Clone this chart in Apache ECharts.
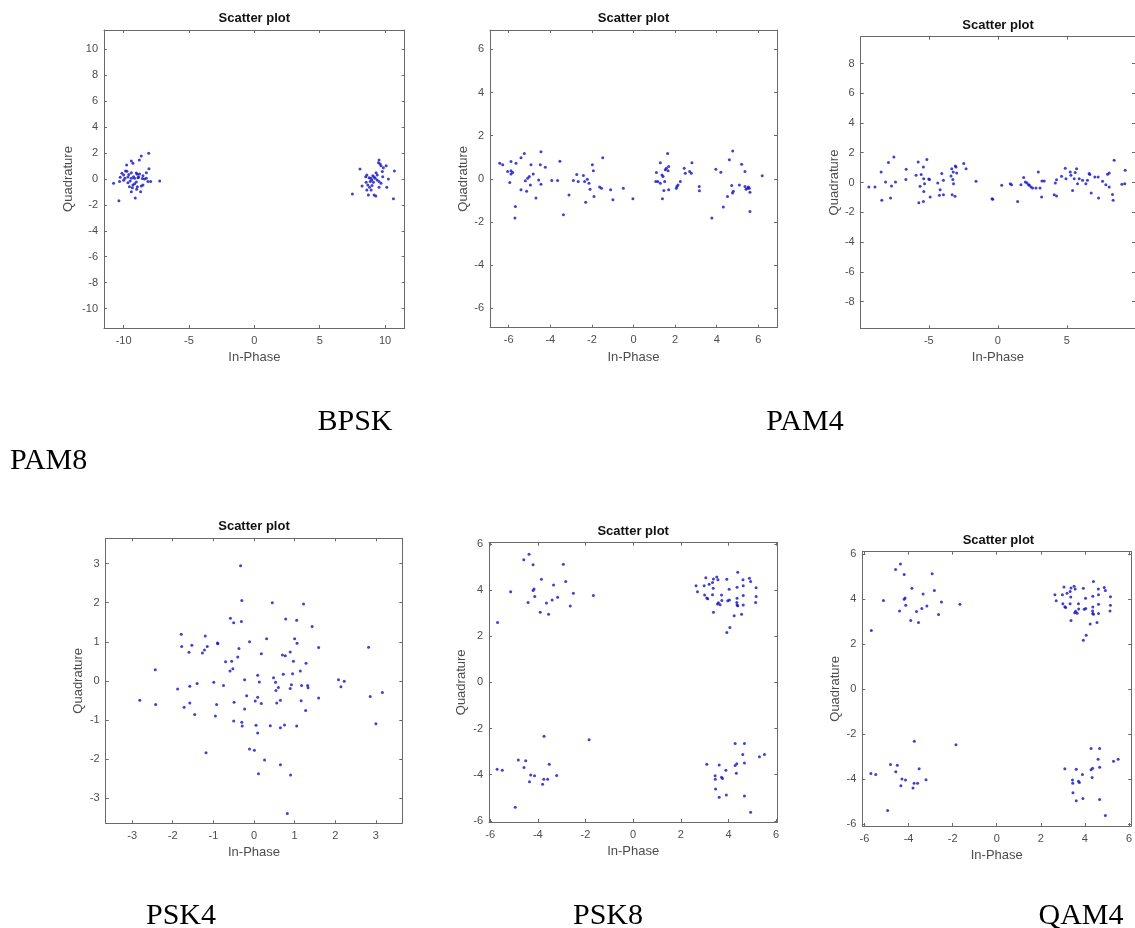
<!DOCTYPE html>
<html><head><meta charset="utf-8">
<script src="https://cdn.jsdelivr.net/npm/echarts@6/dist/echarts.min.js"></script>
<style>html,body{margin:0;padding:0;background:#fff}#c{width:1135px;height:928px}</style>
</head><body><div id="c"></div>
<script>
// ---------- data ----------
const bpskPoints = [
[-8.08,1.98],[-8.65,1.77],[-9.41,1.39],[-9.29,1.21],[-9.77,1.08],[-8.8,1.47],[-8.06,0.8],[-9.85,0.62],[-9.75,0.6],[-10.13,0.44],
[-10.0,0.3],[-9.41,0.49],[-9.03,0.46],[-8.95,0.36],[-8.78,0.39],[-8.52,0.26],[-8.26,0.49],[-10.26,0.13],[-9.67,0.15],[-9.41,0.05],
[-9.24,0.18],[-9.16,0.05],[-8.9,0.1],[-8.26,0.05],[-10.77,-0.33],[-10.31,-0.2],[-10.0,-0.1],[-9.67,-0.28],[-9.5,-0.15],[-9.29,-0.46],
[-9.16,-0.36],[-9.03,-0.23],[-8.95,-0.59],[-9.33,-0.67],[-8.52,-0.46],[-8.14,-0.2],[-7.93,-0.2],[-7.24,-0.15],[-9.41,-0.98],[-8.7,-0.98],
[-8.65,-0.54],[-9.11,-1.47],[-10.36,-1.67],[-8.4,0.0],[-8.57,0.03],[-9.55,-0.6],[-9.0,-0.8],[-8.85,0.15],[-9.6,0.35],[-9.9,0.05],
[9.54,1.47],[9.49,1.26],[9.62,1.16],[9.69,1.03],[9.87,0.87],[10.08,1.03],[8.08,0.77],[10.71,0.62],[9.79,0.57],[9.31,0.49],
[8.6,0.31],[8.52,0.18],[9.06,0.26],[9.16,0.15],[8.91,0.05],[9.24,0.05],[9.39,-0.08],[9.82,0.18],[10.25,0.0],[9.54,-0.2],
[9.69,-0.33],[8.86,-0.2],[8.55,-0.26],[9.11,-0.26],[8.68,-0.46],[8.24,-0.54],[8.81,-0.64],[8.93,-0.85],[8.6,-0.85],[10.13,-0.64],
[9.54,-0.64],[9.16,-1.23],[8.72,-1.23],[9.29,-1.31],[7.5,-1.16],[10.64,-1.52],[8.99,-0.08],[8.78,0.1],[9.4,0.3],[9.0,-0.5]
];
const pam4Points = [
[-6.43,0.72],[-6.29,0.65],[-5.89,0.8],[-5.65,0.72],[-6.05,0.34],[-5.89,0.38],[-5.81,0.29],[-5.89,0.23],[-5.95,-0.17],[-5.68,-1.28],
[-5.7,-1.82],[-5.41,0.98],[-5.25,1.18],[-5.41,-0.51],[-5.2,-0.09],[-5.09,0.03],[-5.14,-0.58],[-5.01,0.11],[-4.93,0.65],[-4.96,-0.28],
[-4.82,0.22],[-4.69,-0.89],[-4.56,-0.05],[-4.48,0.65],[-4.45,1.26],[-4.45,-0.25],[-4.24,0.54],[-3.93,-0.08],[-3.65,-0.08],[-3.54,0.82],
[-3.37,-1.66],[-3.1,-0.75],[-2.89,-0.08],[-2.73,0.2],[-2.66,-0.12],[-2.41,0.15],[-2.35,-0.12],[-2.3,-1.09],[-2.22,-0.02],[-2.14,-0.2],
[-2.09,-0.48],[-1.98,0.65],[-1.93,0.38],[-1.9,-0.82],[-1.63,-0.38],[-1.54,-0.43],[-1.48,0.98],[-1.1,-0.51],[-0.99,-0.97],[-0.49,-0.43],
[-0.03,-0.92],
[1.07,-0.12],[1.1,0.29],[1.17,-0.12],[1.29,-0.2],[1.29,0.75],[1.37,0.18],[1.42,0.11],[1.39,-0.92],[1.46,-0.54],[1.5,-0.12],
[1.53,0.42],[1.58,0.49],[1.64,1.18],[1.66,0.38],[1.69,-0.51],[1.69,0.57],[2.06,-0.43],[2.09,-0.35],[2.14,-0.28],[2.25,-0.12],
[2.44,0.49],[2.49,0.26],[2.7,0.34],[2.78,0.26],[2.81,0.75],[3.16,-0.35],[3.17,-0.55],[3.77,-1.82],[3.96,0.45],[4.2,0.31],
[4.32,-1.31],[4.52,-0.82],[4.61,0.88],[4.72,-0.31],[4.77,1.29],[4.76,-0.66],[4.8,-0.58],[5.09,-0.28],[5.2,0.68],[5.36,0.34],
[5.36,-0.35],[5.41,-0.48],[5.49,-0.43],[5.52,-0.38],[5.57,-0.43],[5.6,-0.62],[5.6,-1.51],[6.19,0.14]
];
const pam8Points = [
[-9.34,-0.3],[-8.9,-0.3],[-8.45,0.71],[-8.4,-1.2],[-8.13,0.03],[-7.92,1.34],[-7.77,-1.04],[-7.7,-0.24],[-7.53,1.72],[-7.41,0.03],
[-6.66,0.21],[-6.64,0.89],[-5.92,0.48],[-5.77,1.38],[-5.72,-1.36],[-5.63,-0.26],[-5.55,0.53],[-5.39,1.04],[-5.39,-1.27],[-5.37,0.26],
[-5.36,-0.6],[-5.31,-0.08],[-5.14,1.54],[-5.0,0.24],[-4.95,0.21],[-4.9,-0.98],[-4.35,-0.03],[-4.18,-0.48],[-4.06,0.6],[-4.23,-0.86],
[-3.94,-0.82],[-3.94,0.15],[-3.39,0.44],[-3.34,0.93],[-3.31,-0.82],[-3.26,0.21],[-3.23,0.71],[-3.21,-0.08],[-3.1,-0.93],[-3.08,1.11],
[-3.03,1.04],[-2.98,0.64],[-2.47,1.27],[-2.3,0.93],[-1.58,0.08],[-0.42,-1.09],[-0.37,-1.13],[0.28,-0.19],[0.9,-0.08],[0.99,-0.15],
[1.43,-1.27],[1.67,-0.15],[1.87,0.33],[1.99,0.03],[2.11,-0.03],[2.23,-0.15],[2.28,-0.19],[2.4,-0.3],[2.52,-0.37],[2.76,-0.37],
[2.93,0.71],[3.05,-0.37],[3.17,-0.98],[3.19,0.1],[3.36,0.1],[4.08,-0.82],[4.16,-0.03],[4.25,-0.91],[4.25,0.19],[4.61,0.42],
[4.88,0.95],[4.93,0.26],[5.24,0.71],[5.29,0.48],[5.41,-0.53],[5.53,0.26],[5.6,0.68],[5.7,0.93],[5.77,-0.08],[5.89,0.26],
[6.13,0.15],[6.37,-0.08],[6.49,0.15],[6.61,0.6],[6.66,0.53],[6.76,-0.71],[7.02,0.37],[7.26,0.37],[7.29,-1.04],[7.58,0.08],
[7.82,-0.15],[7.94,0.55],[8.06,0.64],[8.06,-0.3],[8.3,-0.8],[8.35,-1.2],[8.42,1.49],[8.98,-0.12],[9.19,-0.08],[9.22,0.82]
];
const psk4Points = [
[-0.33,2.95],[-0.3,2.06],[0.45,2.0],[1.22,1.97],[-0.58,1.6],[-0.5,1.49],[-0.31,1.52],[0.78,1.58],[1.05,1.55],[1.43,1.39],
[-1.79,1.19],[-1.2,1.15],[-1.78,0.88],[-1.53,0.91],[-1.6,0.73],[-1.22,0.79],[-1.15,0.88],[-1.27,0.71],[-0.9,0.97],[-0.89,0.95],
[-0.11,1.0],[0.31,1.08],[1.0,1.08],[1.06,0.96],[1.59,0.85],[2.82,0.86],[-0.37,0.83],[-0.4,0.61],[-0.7,0.49],[-0.55,0.5],
[-0.52,0.31],[-0.59,0.25],[0.18,0.69],[0.7,0.66],[0.77,0.64],[0.89,0.74],[0.97,0.5],[1.28,0.45],[1.14,0.25],[0.72,0.17],
[0.95,0.18],[-2.43,0.28],[-0.23,0.03],[0.09,0.14],[0.13,-0.03],[0.48,0.08],[0.53,-0.04],[0.6,-0.17],[0.54,-0.25],[0.92,-0.1],
[0.89,-0.2],[1.17,-0.12],[1.32,-0.12],[1.33,-0.18],[2.08,0.03],[2.22,-0.01],[2.14,-0.15],[-0.99,-0.04],[-0.75,-0.12],[-1.4,-0.07],
[-1.58,-0.14],[-1.88,-0.21],[-2.81,-0.5],[-2.42,-0.61],[-1.58,-0.57],[-1.72,-0.68],[-1.46,-0.86],[-0.92,-0.61],[-0.95,-0.9],[-0.49,-0.55],
[-0.23,-0.72],[-0.18,-0.38],[0.03,-0.52],[0.09,-0.42],[0.18,-0.58],[0.56,-0.57],[0.65,-0.5],[1.16,-0.51],[1.27,-0.76],[1.59,-0.44],
[2.86,-0.4],[3.16,-0.3],[3.0,-1.1],[-0.5,-1.03],[-0.3,-1.06],[-0.29,-1.16],[0.05,-1.14],[0.09,-1.34],[0.4,-1.15],[0.65,-1.2],
[0.75,-1.13],[1.05,-1.16],[-1.18,-1.84],[-0.11,-1.75],[0.01,-1.78],[0.26,-2.03],[0.65,-2.15],[0.11,-2.38],[0.9,-2.41],[0.82,-3.4]
];
const psk8Points = [
[-4.37,5.55],[-4.59,5.31],[-4.2,5.09],[-2.93,5.12],[-3.85,4.47],[-2.83,4.37],[-3.34,4.22],[-5.14,3.93],[-4.16,4.04],[-4.2,3.98],
[-2.51,3.86],[-1.67,3.76],[-4.13,3.72],[-3.17,3.69],[-3.4,3.57],[-3.64,3.44],[-4.41,3.46],[-2.64,3.31],[-3.9,3.04],[-3.55,2.95],
[-5.69,2.59],
[2.64,4.18],[2.7,3.92],[3.05,4.53],[2.98,4.18],[3.19,4.25],[3.33,4.33],[3.36,4.08],[3.37,4.48],[3.51,4.56],[3.56,4.44],
[3.93,4.47],[4.39,4.77],[4.88,4.51],[4.93,4.37],[4.61,4.44],[4.62,4.18],[4.36,4.12],[4.03,4.03],[5.16,4.1],[3.0,3.78],
[3.09,3.65],[3.13,3.62],[3.33,3.79],[3.71,3.78],[4.62,3.76],[5.16,3.72],[4.36,3.64],[4.04,3.57],[3.97,3.54],[3.72,3.55],
[3.58,3.45],[3.65,3.36],[3.54,3.39],[4.35,3.46],[4.36,3.35],[4.39,3.32],[4.62,3.35],[5.14,3.46],[3.37,3.04],[4.24,2.88],
[4.55,2.95],[4.06,2.38],[3.93,2.16],
[-3.74,-2.33],[-1.85,-2.49],[-4.82,-3.36],[-4.51,-3.4],[-5.71,-3.76],[-5.49,-3.81],[-4.58,-3.69],[-3.52,-3.55],[-4.3,-4.01],[-4.14,-4.05],
[-3.21,-4.04],[-4.35,-4.31],[-3.75,-4.2],[-3.59,-4.2],[-3.8,-4.41],[-4.95,-5.41],
[4.28,-2.65],[4.67,-2.65],[4.6,-3.13],[5.3,-3.22],[5.51,-3.13],[3.09,-3.55],[3.61,-3.58],[4.28,-3.6],[4.35,-3.53],[4.67,-3.49],
[3.89,-3.81],[4.33,-3.94],[3.44,-4.05],[3.45,-4.2],[3.71,-4.11],[3.75,-4.17],[3.46,-4.62],[3.91,-4.88],[3.61,-4.98],[4.67,-4.92],
[4.93,-5.63]
];
// QAM4 panel shows the same received symbols as the PSK8 panel
const qam4Points = psk8Points.map(p => p.slice());

const panelNames = ['BPSK', 'PAM4', 'PAM8', 'PSK4', 'PSK8', 'QAM4'];
const bpskTicksX = [-10, -5, 0, 5, 10];
const bpskTicksY = [-10, -8, -6, -4, -2, 0, 2, 4, 6, 8, 10];
const pam4Ticks = [-6, -4, -2, 0, 2, 4, 6];
const pam8TicksX = [-5, 0, 5];
const pam8TicksY = [-8, -6, -4, -2, 0, 2, 4, 6, 8];
const psk4Ticks = [-3, -2, -1, 0, 1, 2, 3];
const psk8Ticks = [-6, -4, -2, 0, 2, 4, 6];
const titleText = 'Scatter plot';
const xName = 'In-Phase';
const yName = 'Quadrature';

// ---------- layout ----------
const panels = [
  {data: bpskPoints, xr: [-11.5, 11.5], yr: [-11.5, 11.5], xt: bpskTicksX, yt: bpskTicksY, l: 104, t: 30, r: 404.7, b: 328, yGap: 29},
  {data: pam4Points, xr: [-6.9, 6.9], yr: [-6.9, 6.9], xt: pam4Ticks, yt: pam4Ticks, l: 490, t: 30, r: 777, b: 327.7, yGap: 20},
  {data: pam8Points, xr: [-9.93, 9.93], yr: [-9.8, 9.8], xt: pam8TicksX, yt: pam8TicksY, l: 860.7, t: 36.7, r: 1135.5, b: 328.3, yGap: 19},
  {data: psk4Points, xr: [-3.65, 3.65], yr: [-3.65, 3.65], xt: psk4Ticks, yt: psk4Ticks, l: 105.7, t: 538.3, r: 402.3, b: 823.3, yGap: 21},
  {data: psk8Points, xr: [-6.05, 6.05], yr: [-6.05, 6.05], xt: psk8Ticks, yt: psk8Ticks, l: 489, t: 542.7, r: 777.3, b: 822, yGap: 21},
  {data: qam4Points, xr: [-6.1, 6.1], yr: [-6.1, 6.1], xt: psk8Ticks, yt: psk8Ticks, l: 862.3, t: 551.7, r: 1134.5, b: 826, yGap: 20}
];
const captions = [
  {x: 355, y: 422, align: 'center'},
  {x: 805, y: 422, align: 'center'},
  {x: 10, y: 461, align: 'left'},
  {x: 181, y: 916, align: 'center'},
  {x: 608, y: 916, align: 'center'},
  {x: 1081, y: 916, align: 'center'}
];

const axisColor = '#6a6a6a';
const labelColor = '#4d4d4d';
const sans = '"Liberation Sans", Arial, Helvetica, sans-serif';
const serif = '"Liberation Serif", "Times New Roman", serif';

const grid = [], xAxis = [], yAxis = [], series = [], graphic = [];
panels.forEach((p, i) => {
  grid.push({left: p.l, top: p.t, width: p.r - p.l, height: p.b - p.t, containLabel: false});
  const tickStyle = {show: true, inside: true, length: 3, lineStyle: {color: axisColor, width: 1}};
  const lineStyle = {show: true, onZero: false, lineStyle: {color: axisColor, width: 1}};
  xAxis.push({
    type: 'value', gridIndex: i, position: 'bottom', min: p.xr[0], max: p.xr[1],
    axisLine: lineStyle, splitLine: {show: false},
    axisTick: Object.assign({}, tickStyle, {customValues: p.xt}),
    axisLabel: {show: true, customValues: p.xt, margin: 7, color: labelColor, fontSize: 11, fontFamily: sans},
    name: xName, nameLocation: 'middle', nameGap: 23,
    nameTextStyle: {color: labelColor, fontSize: 13, fontFamily: sans}
  });
  xAxis.push({
    type: 'value', gridIndex: i, position: 'top', min: p.xr[0], max: p.xr[1],
    axisLine: lineStyle, splitLine: {show: false},
    axisTick: Object.assign({}, tickStyle, {customValues: p.xt}),
    axisLabel: {show: false}
  });
  yAxis.push({
    type: 'value', gridIndex: i, position: 'left', min: p.yr[0], max: p.yr[1],
    axisLine: lineStyle, splitLine: {show: false},
    axisTick: Object.assign({}, tickStyle, {customValues: p.yt}),
    axisLabel: {show: true, customValues: p.yt, margin: 6, color: labelColor, fontSize: 11, fontFamily: sans},
    name: yName, nameLocation: 'middle', nameGap: p.yGap, nameRotate: 90,
    nameTextStyle: {color: labelColor, fontSize: 13, fontFamily: sans}
  });
  yAxis.push({
    type: 'value', gridIndex: i, position: 'right', min: p.yr[0], max: p.yr[1],
    axisLine: lineStyle, splitLine: {show: false},
    axisTick: Object.assign({}, tickStyle, {customValues: p.yt}),
    axisLabel: {show: false}
  });
  series.push({
    type: 'scatter', xAxisIndex: 2 * i, yAxisIndex: 2 * i, data: p.data,
    symbol: 'circle', symbolSize: 3, itemStyle: {color: '#1212c4'},
    silent: true, animation: false
  });
  graphic.push({
    type: 'text', x: (p.l + p.r) / 2, y: p.t - 11.5,
    style: {text: titleText, align: 'center', verticalAlign: 'middle', fill: '#111', font: 'bold 13px ' + sans}
  });
});
captions.forEach((c, i) => {
  graphic.push({
    type: 'text', x: c.x, y: c.y,
    style: {text: panelNames[i], align: c.align, verticalAlign: 'middle', fill: '#000', font: '30px ' + serif}
  });
});

const chart = echarts.init(document.getElementById('c'), null, {renderer: 'canvas'});
chart.setOption({
  animation: false,
  backgroundColor: '#ffffff',
  grid, xAxis, yAxis, series, graphic
});
</script>
</body></html>
